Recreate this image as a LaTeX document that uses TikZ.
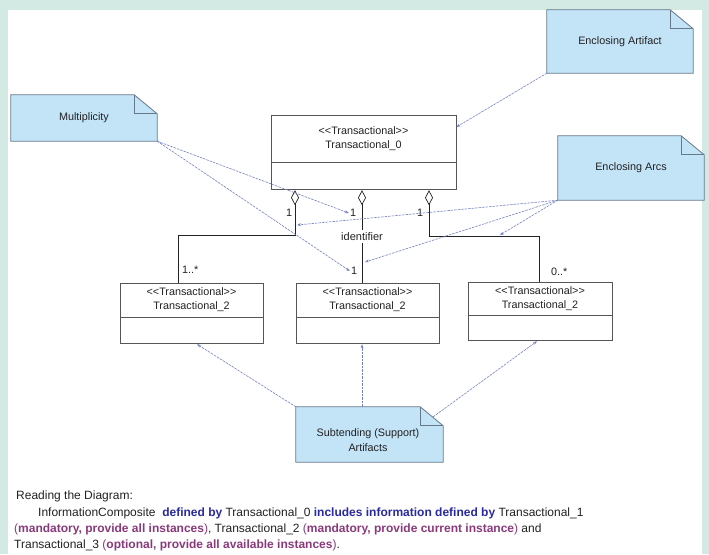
\documentclass[tikz,border=0pt]{standalone}
\usepackage{fontspec}
\setmainfont{Liberation Sans}[Ligatures=TeXOff]
\usetikzlibrary{arrows.meta,backgrounds,calc}
\definecolor{bgtint}{HTML}{D3EAE4}
\definecolor{notefill}{HTML}{C3E3F7}
\definecolor{noteedge}{HTML}{66788A}
\definecolor{boxedge}{HTML}{555555}
\definecolor{arcblue}{HTML}{7482C4}
\definecolor{txt}{HTML}{222222}
\definecolor{dblue}{HTML}{2A2AA0}
\definecolor{purp}{HTML}{8A3A7C}
\newcommand{\dognote}[1]{%
  \begin{scope}[on background layer]
    \filldraw[fill=notefill,draw=noteedge,line width=0.8pt]
      (#1.south west) -- (#1.north west) -- ([xshift=-23pt]#1.north east)
      -- ([yshift=-19pt]#1.north east) -- (#1.south east) -- cycle;
    \draw[draw=noteedge,line width=0.8pt]
      ([xshift=-23pt]#1.north east) -- ([xshift=-23pt,yshift=-19pt]#1.north east)
      -- ([yshift=-19pt]#1.north east);
  \end{scope}}
\tikzset{
  notetext/.style={inner sep=0pt, align=center, text=txt, font=\fontsize{10.8}{15}\selectfont},
  classtop/.style={draw=boxedge, fill=white, line width=0.8pt, inner sep=0pt, align=center,
                   text=txt, font=\fontsize{10.8}{14}\selectfont},
  classbot/.style={draw=boxedge, fill=white, line width=0.8pt, inner sep=0pt},
  agg/.style={draw=txt, line width=0.7pt, {Diamond[open,length=15pt,width=8pt]}-},
  mult/.style={inner sep=1pt, text=txt, font=\fontsize{10.8}{12}\selectfont},
  notearrow/.style={draw=arcblue, line width=0.6pt, dash pattern=on 2.5pt off 1pt,
                    -{Stealth[length=4pt,width=3pt]}},
  reading/.style={anchor=base west, inner sep=0pt, text=txt, font=\fontsize{12}{14}\selectfont}
}
\begin{document}
\begin{tikzpicture}[x=1pt,y=-1pt]
\useasboundingbox (0,0) rectangle (709,554);
\begin{scope}[on background layer]
  \fill[bgtint] (0,0) rectangle (709,554);
  \fill[white] (8,10) rectangle (702,554);
\end{scope}

% helper x positions
\coordinate (lx) at (295,0);
\coordinate (mx) at (362,0);
\coordinate (rx) at (429,0);
\coordinate (cx1) at (178,0);
\coordinate (cx3) at (539,0);

% notes
\node[notetext, minimum width=146, minimum height=63] (ea) at (620,41.5) {Enclosing Artifact};
\dognote{ea}
\node[notetext, minimum width=146, minimum height=46] (mu) at (84,118) {Multiplicity};
\dognote{mu}
\node[notetext, minimum width=146, minimum height=64] (arcs) at (631,168) {Enclosing Arcs};
\dognote{arcs}
\node[notetext, minimum width=147, minimum height=55] (sn) at (369.5,434.5) {};
\dognote{sn}
\node[notetext, anchor=center] (snt) at (368,440) {Subtending (Support)\\Artifacts};

% classes
\node[classtop, minimum width=185, minimum height=47] (t0) at (363.5,138.5) {<<Transactional>>\\Transactional\_0};
\node[classbot, minimum width=185, minimum height=27, anchor=north] (t0b) at (t0.south) {};

\node[classtop, minimum width=143, minimum height=34] (c1) at (191.5,300) {<<Transactional>>\\Transactional\_2};
\node[classbot, minimum width=143, minimum height=26, anchor=north] (c1b) at (c1.south) {};

\node[classtop, minimum width=143, minimum height=34] (c2) at (367.5,300) {<<Transactional>>\\Transactional\_2};
\node[classbot, minimum width=143, minimum height=26, anchor=north] (c2b) at (c2.south) {};

\node[classtop, minimum width=144, minimum height=33] (c3) at (540,298.5) {<<Transactional>>\\Transactional\_2};
\node[classbot, minimum width=144, minimum height=25, anchor=north] (c3b) at (c3.south) {};

% aggregation connectors
\draw[agg] (t0b.south -| lx) -- ++(0,45) -| (c1.north -| cx1);
\draw[agg] (t0b.south -| mx) -- node[fill=white, inner sep=2.5pt, text=txt, font=\fontsize{11}{12}\selectfont] (idl) {identifier} (c2.north -| mx);
\draw[agg] (t0b.south -| rx) -- ++(0,46) -| (c3.north -| cx3);

% multiplicities
\node[mult] (l1) at (289,213) {1};
\node[mult] (m1) at (353,213) {1};
\node[mult] (r1) at (420,213) {1};
\node[mult] (m2) at (354,271) {1};
\node[mult, anchor=west] (lm) at (181,270) {1..*};
\node[mult, anchor=west] (rm) at (550,272) {0..*};

% note connectors
\coordinate (eaL) at (297,225);
\coordinate (eaM) at (365,262);
\coordinate (eaR) at (500,235);
\draw[notearrow] (ea.south west) -- ([yshift=11.5pt]t0.east);
\draw[notearrow] (mu.south east) -- (m1.west);
\draw[notearrow] (mu.south east) -- (m2.west);
\draw[notearrow] (arcs.south west) -- (eaL);
\draw[notearrow] (arcs.south west) -- (eaM);
\draw[notearrow] (arcs.south west) -- (eaR);
\draw[notearrow] (sn.north west) -- ([xshift=5.5pt]c1b.south);
\draw[notearrow] (sn.north -| mx) -- (c2b.south -| mx);
\draw[notearrow] ($(sn.north east)+(-10,10)$) -- ([xshift=-3pt]c3b.south);

% reading text
\node[reading] (rd1) at (16,499) {Reading the Diagram:};
\node[reading] (rd2) at (38,516) {InformationComposite\ \ \textcolor{dblue}{\textbf{defined by}} Transactional\_0 \textcolor{dblue}{\textbf{includes information defined by}} Transactional\_1};
\node[reading] (rd3) at (14,532) {\textcolor{purp}{(\textbf{mandatory, provide all instances})}, Transactional\_2 \textcolor{purp}{(\textbf{mandatory, provide current instance})} and};
\node[reading] (rd4) at (14,548) {Transactional\_3 \textcolor{purp}{(\textbf{optional, provide all available instances})}.};
\end{tikzpicture}
\end{document}
